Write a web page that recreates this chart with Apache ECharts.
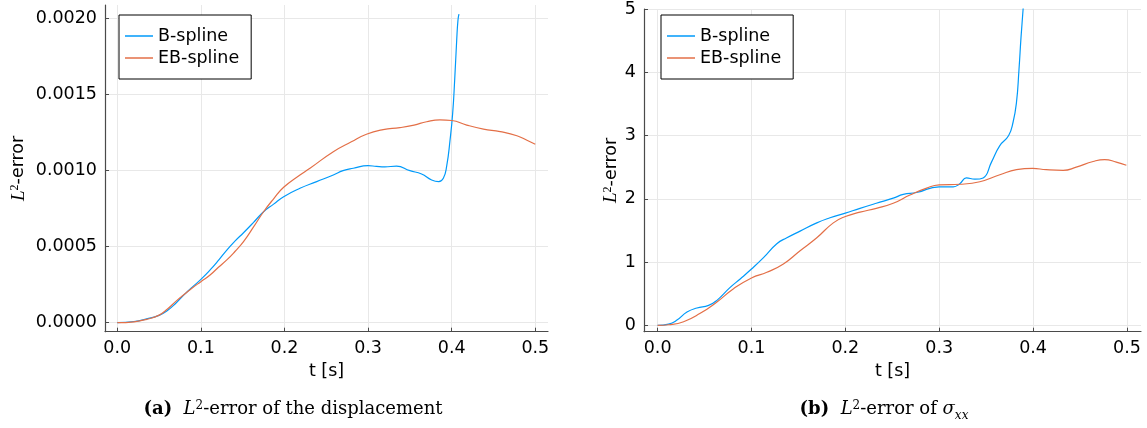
<!DOCTYPE html>
<html><head><meta charset="utf-8">
<script src="https://cdn.jsdelivr.net/npm/echarts@6/dist/echarts.min.js"></script>
<style>html,body{margin:0;padding:0;background:#fff}#c{width:1147px;height:428px}</style>
</head><body><div id="c"></div>
<script>
// ---- data ----
const seriesNames = ['B-spline', 'EB-spline'];
const xTickLabels = ['0.0', '0.1', '0.2', '0.3', '0.4', '0.5'];

// (a) L2-error of the displacement
const dispB_t = [0, 0.02, 0.035, 0.05, 0.06, 0.07, 0.081, 0.09, 0.1, 0.111, 0.121, 0.131, 0.141, 0.151, 0.163, 0.175, 0.187, 0.199, 0.2185, 0.2385, 0.2584, 0.27, 0.2823, 0.3, 0.31, 0.32, 0.334, 0.35, 0.364, 0.376, 0.3845, 0.39, 0.394, 0.398, 0.4012, 0.4036, 0.406, 0.4075, 0.4087];
const dispB_v = [0, 0.000008, 0.000025, 0.000048, 0.00008, 0.000128, 0.00019, 0.000235, 0.000285, 0.000347, 0.00041, 0.000478, 0.000538, 0.000592, 0.00066, 0.00073, 0.00078, 0.000829, 0.000884, 0.000928, 0.000972, 0.001, 0.001016, 0.001033, 0.001028, 0.001025, 0.00103, 0.001, 0.000978, 0.000939, 0.000928, 0.00095, 0.00103, 0.0012, 0.00138, 0.0016, 0.00186, 0.00199, 0.00203];
const dispEB_t = [0, 0.02, 0.035, 0.05, 0.06, 0.07, 0.081, 0.09, 0.1, 0.111, 0.121, 0.131, 0.141, 0.151, 0.163, 0.175, 0.187, 0.199, 0.2185, 0.2305, 0.2584, 0.28, 0.298, 0.318, 0.338, 0.355, 0.37, 0.386, 0.4, 0.418, 0.438, 0.458, 0.478, 0.49, 0.5];
const dispEB_v = [0, 0.000006, 0.000022, 0.00005, 0.00009, 0.00014, 0.00019, 0.00023, 0.00027, 0.000314, 0.000365, 0.000413, 0.00047, 0.000533, 0.00063, 0.00073, 0.000815, 0.000891, 0.000972, 0.001016, 0.001125, 0.00119, 0.00124, 0.00127, 0.001283, 0.0013, 0.001322, 0.001334, 0.00133, 0.0013, 0.001274, 0.001257, 0.00123, 0.0012, 0.001174];

// (b) L2-error of sigma_xx
const sigB_t = [0, 0.0117, 0.0206, 0.0313, 0.0419, 0.0543, 0.0632, 0.0773, 0.088, 0.1, 0.1128, 0.127, 0.1377, 0.1518, 0.1696, 0.1837, 0.2, 0.2156, 0.233, 0.251, 0.2617, 0.276, 0.2998, 0.315, 0.322, 0.329, 0.338, 0.3468, 0.3557, 0.3646, 0.374, 0.3787, 0.3823, 0.385, 0.3872, 0.3894, 0.392];
const sigB_v = [0, 0.02, 0.083, 0.21, 0.275, 0.317, 0.395, 0.6, 0.734, 0.89, 1.07, 1.29, 1.385, 1.49, 1.62, 1.7, 1.775, 1.85, 1.93, 2.01, 2.07, 2.1, 2.19, 2.19, 2.24, 2.33, 2.31, 2.33, 2.58, 2.84, 3.0, 3.21, 3.52, 4.04, 4.56, 5.0, 5.6];
const sigEB_t = [0, 0.0117, 0.0277, 0.0454, 0.0632, 0.0809, 0.1, 0.1164, 0.134, 0.1518, 0.1696, 0.1872, 0.2, 0.2156, 0.233, 0.251, 0.2688, 0.2866, 0.3, 0.322, 0.3433, 0.3646, 0.3823, 0.3994, 0.414, 0.432, 0.446, 0.464, 0.4763, 0.4887, 0.4994];
const sigEB_v = [0, 0.01, 0.057, 0.19, 0.37, 0.58, 0.75, 0.84, 0.97, 1.18, 1.385, 1.62, 1.72, 1.79, 1.85, 1.93, 2.06, 2.17, 2.22, 2.23, 2.27, 2.38, 2.46, 2.48, 2.46, 2.45, 2.5, 2.59, 2.62, 2.58, 2.53];

// ---- build ----
const pairs = (t, v) => t.map((x, i) => [x, v[i]]);
const BLUE = '#009AFA', ORANGE = '#E36F47';
const AXIS = '#4a4a4a', GRID = '#e8e8e8';
const FONT = 'DejaVu Sans';
const FS = 17.5;

function xAxis(idx, min, max) {
  return {
    type: 'value', gridIndex: idx, min: min, max: max, splitNumber: 5,
    name: 't [s]', nameLocation: 'middle', nameGap: 30,
    nameTextStyle: { fontFamily: FONT, fontSize: FS, color: '#000' },
    axisLine: { onZero: false, lineStyle: { color: AXIS, width: 1.2 } },
    axisTick: { inside: true, length: 4, lineStyle: { color: AXIS } },
    axisLabel: {
      margin: 8, fontFamily: FONT, fontSize: FS, color: '#000',
      showMinLabel: false, showMaxLabel: false,
      formatter: v => { const k = Math.round(v * 10); return Math.abs(v * 10 - k) < 1e-6 ? xTickLabels[k] : ''; }
    },
    splitLine: { show: true, showMinLine: false, showMaxLine: false, lineStyle: { color: GRID, width: 1 } }
  };
}
const yName = '{i|L}{s|2}-error';
const yNameStyle = {
  fontFamily: FONT, fontSize: FS, color: '#000',
  rich: {
    i: { fontFamily: 'Liberation Serif', fontStyle: 'italic', fontSize: 19, color: '#000' },
    s: { fontFamily: 'Liberation Serif', fontSize: 12, verticalAlign: 'top', lineHeight: 12, color: '#000' }
  }
};

const legendBase = {
  orient: 'vertical', data: seriesNames, icon: 'rect', itemWidth: 28, itemHeight: 1.5,
  itemGap: 4, padding: [12, 12, 12, 6], borderColor: '#000', borderWidth: 1, backgroundColor: '#fff',
  textStyle: { fontFamily: FONT, fontSize: FS, color: '#000', lineHeight: 17 }, selectedMode: false
};

const smoothLine = (name, xi, t, v, col) => ({
  name: name, type: 'line', xAxisIndex: xi, yAxisIndex: xi, data: pairs(t, v), color: col,
  showSymbol: false, symbol: 'none', smooth: 0.5, lineStyle: { width: 1.2, color: col }
});

const option = {
  animation: false,
  backgroundColor: '#fff',
  grid: [
    { left: 105, top: 5, width: 443, height: 326.7 },
    { left: 644, top: 5, width: 497, height: 326.7 }
  ],
  xAxis: [xAxis(0, -0.0147, 0.5152), xAxis(1, -0.0145, 0.515)],
  yAxis: [
    {
      type: 'value', gridIndex: 0, min: -0.0000592, max: 0.00209, splitNumber: 4,
      name: yName, nameLocation: 'middle', nameGap: 77, nameTextStyle: yNameStyle,
      axisLine: { onZero: false, lineStyle: { color: AXIS, width: 1.2 } },
      axisTick: { inside: true, length: 4, lineStyle: { color: AXIS } },
      axisLabel: { margin: 8, fontFamily: FONT, fontSize: FS, color: '#000', showMinLabel: false, showMaxLabel: false,
        formatter: v => { const k = Math.round(v / 0.0005); return Math.abs(v / 0.0005 - k) < 1e-6 ? (k * 0.0005).toFixed(4) : ''; } },
      splitLine: { show: true, showMinLine: false, showMaxLine: false, lineStyle: { color: GRID, width: 1 } }
    },
    {
      type: 'value', gridIndex: 1, min: -0.1, max: 5, splitNumber: 5,
      name: yName, nameLocation: 'middle', nameGap: 22, nameTextStyle: yNameStyle,
      axisLine: { onZero: false, lineStyle: { color: AXIS, width: 1.2 } },
      axisTick: { inside: true, length: 4, lineStyle: { color: AXIS } },
      axisLabel: { margin: 8, fontFamily: FONT, fontSize: FS, color: '#000', showMinLabel: false, showMaxLabel: true,
        formatter: v => { const k = Math.round(v); return Math.abs(v - k) < 1e-6 ? String(k) : ''; } },
      splitLine: { show: true, showMinLine: false, showMaxLine: true, lineStyle: { color: GRID, width: 1 } }
    }
  ],
  legend: [
    Object.assign({}, legendBase, { left: 119, top: 15 }),
    Object.assign({}, legendBase, { left: 661, top: 15 })
  ],
  series: [
    smoothLine(seriesNames[0], 0, dispB_t, dispB_v, BLUE),
    smoothLine(seriesNames[1], 0, dispEB_t, dispEB_v, ORANGE),
    smoothLine(seriesNames[0], 1, sigB_t, sigB_v, BLUE),
    smoothLine(seriesNames[1], 1, sigEB_t, sigEB_v, ORANGE)
  ],
  graphic: [
    { type: 'text', x: 293, y: 409, style: {
      text: '{b|(a)}  {i|L}{s|2}-error of the displacement',
      fontFamily: 'DejaVu Serif', fontSize: 18, fill: '#000', align: 'center', verticalAlign: 'middle',
      rich: {
        b: { fontFamily: 'DejaVu Serif', fontWeight: 'bold', fontSize: 18 },
        i: { fontFamily: 'DejaVu Serif', fontStyle: 'italic', fontSize: 18 },
        s: { fontFamily: 'DejaVu Serif', fontSize: 12, verticalAlign: 'top', lineHeight: 12, padding: [0, 0, 4, 0] }
      } } },
    { type: 'text', x: 884, y: 409, style: {
      text: '{b|(b)}  {i|L}{s|2}-error of {i|σ}{sub|xx}',
      fontFamily: 'DejaVu Serif', fontSize: 18, fill: '#000', align: 'center', verticalAlign: 'middle',
      rich: {
        b: { fontFamily: 'DejaVu Serif', fontWeight: 'bold', fontSize: 18 },
        i: { fontFamily: 'DejaVu Serif', fontStyle: 'italic', fontSize: 18 },
        s: { fontFamily: 'DejaVu Serif', fontSize: 12, verticalAlign: 'top', lineHeight: 12, padding: [0, 0, 4, 0] },
        sub: { fontFamily: 'DejaVu Serif', fontStyle: 'italic', fontSize: 12, verticalAlign: 'bottom', lineHeight: 12, padding: [0, 0, -4, 0] }
      } } }
  ]
};
const chart = echarts.init(document.getElementById('c'), null, { renderer: 'canvas' });
chart.setOption(option);
</script>
</body></html>
